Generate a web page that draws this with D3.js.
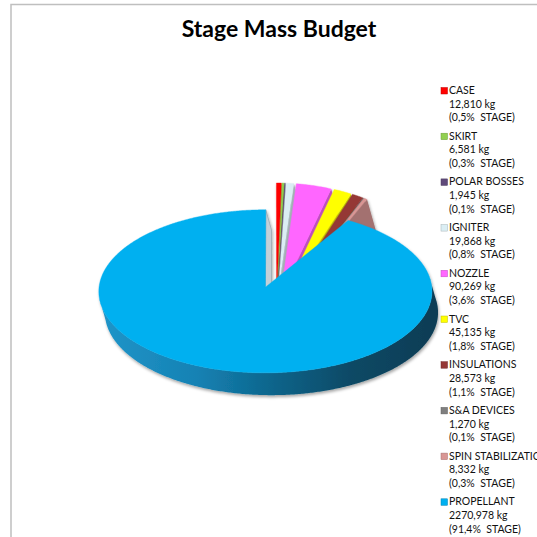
<!DOCTYPE html>
<html>
<head>
<meta charset="utf-8">
<script src="https://cdn.jsdelivr.net/npm/d3@7"></script>
<style>
  html, body { margin: 0; padding: 0; background: #fff; }
  svg { display: block; }
  text { font-family: Lato, "Noto Sans", sans-serif; }
</style>
</head>
<body>
<svg id="chart"></svg>
<script>
// data
const categories = ["CASE", "SKIRT", "POLAR BOSSES", "IGNITER", "NOZZLE", "TVC",
                    "INSULATIONS", "S&A DEVICES", "SPIN STABILIZATION", "PROPELLANT"];
const massKg = [12.810, 6.581, 1.945, 19.868, 90.269, 45.135, 28.573, 1.270, 8.332, 2270.978];
const palette = ["#ff0000", "#92d050", "#604a7b", "#dbeef4", "#ff66ff", "#ffff00",
                 "#953735", "#7f7f7f", "#d99694", "#00b0f0"];

const width = 537, height = 537;

// 3d pie params
const cx = 273, cy = 274;
const RX = 165, RY = 80;   // top ellipse radii
const P = 0.05;            // mild perspective
const DX = 6, DY = 21;     // thickness vector
const bigExplode = 0.17;
// the pulled-out small slices look bigger in the reference
const small = { explode: 0.12, shiftU: 0.02, shiftW: -0.38, rx: 1.0, ry: 1.466, depth: 1.7 };

let svg = d3.select("#chart")
    .attr("width", width)
    .attr("height", height);

// frame of the chart area
svg.append("path")
    .attr("d", "M11,537 L11,4.5 L537,4.5")
    .attr("fill", "none")
    .attr("stroke", "#bfbfbf")
    .attr("stroke-width", 1.5);

// title
svg.append("text")
    .attr("x", 279)
    .attr("y", 37)
    .attr("text-anchor", "middle")
    .style("font-size", "23px")
    .style("font-weight", "bold")
    .style("fill", "#000")
    .text("Stage Mass Budget");

let defs = svg.append("defs");

let shadow = defs.append("filter")
    .attr("id", "shadow")
    .attr("x", "-10%").attr("y", "-10%")
    .attr("width", "120%").attr("height", "130%");
shadow.append("feDropShadow")
    .attr("dx", 1).attr("dy", 2)
    .attr("stdDeviation", 1.5)
    .attr("flood-color", "#000")
    .attr("flood-opacity", 0.35);

// side gradient of the big slice
let grad = defs.append("linearGradient")
    .attr("id", "sideGrad")
    .attr("gradientUnits", "userSpaceOnUse")
    .attr("x1", cx - RX - 15).attr("x2", cx + RX)
    .attr("y1", 0).attr("y2", 0);
[["0%", "#2196ca"], ["30%", "#1582b4"], ["55%", "#0c6186"], ["75%", "#0a4965"], ["100%", "#0a3c54"]]
    .forEach(s => grad.append("stop").attr("offset", s[0]).attr("stop-color", s[1]));

let color = d3.scaleOrdinal(categories, palette);

let total = d3.sum(massKg);
let locale = d3.formatLocale({ decimal: ",", thousands: "", grouping: [3], currency: ["", ""] });
let fmtKg = locale.format(".3f");
let fmtPct = locale.format(".1f");

let pie = d3.pie()
    .sort(null)
    .value(d => d.kg);

let arcs = pie(categories.map((c, i) => ({ name: c, kg: massKg[i] })));

// project a point of the pie plane (u right, w away, z down) to screen
function proj(u, w, z) {
    let s = 1 / (1 + P * w);
    return [cx + (RX * u + DX * z) * s, cy + (-RY * w + DY * z) * s];
}

function wallVisible(nu, nw) {
    return nu * DX / RX - nw * DY / RY > 0;
}

let line = d3.line();

function arcAngles(a0, a1) {
    let n = Math.max(2, Math.ceil((a1 - a0) / (Math.PI / 360)));
    return d3.range(n + 1).map(k => a0 + (a1 - a0) * k / n);
}

// farther slices first, big slice last
let order = arcs.slice().sort((a, b) => (a.data.name === "PROPELLANT") - (b.data.name === "PROPELLANT") || a.startAngle - b.startAngle);

let pieG = svg.append("g").attr("class", "pie3d");

order.forEach(function (d) {
    let big = d.data.name === "PROPELLANT";
    let mid = (d.startAngle + d.endAngle) / 2;
    let e = big ? bigExplode : small.explode;
    let ou = e * Math.sin(mid) + (big ? 0 : small.shiftU);
    let ow = e * Math.cos(mid) + (big ? 0 : small.shiftW);
    let kx = big ? 1 : small.rx, ky = big ? 1 : small.ry, kz = big ? 1 : small.depth;
    let c = color(d.data.name);
    let wallColor = d3.color(c).darker(big ? 0.6 : 0.8).formatHex();

    let g = pieG.append("g").attr("filter", "url(#shadow)");
    let pt = (a, z) => proj(ou + kx * Math.sin(a), ow + ky * Math.cos(a), z * kz);
    let centre = z => proj(ou, ow, z * kz);

    // outer curved wall, visible parts
    let angles = arcAngles(d.startAngle, d.endAngle);
    let runs = [], cur = [];
    angles.forEach(a => {
        if (wallVisible(Math.sin(a), Math.cos(a))) cur.push(a);
        else if (cur.length) { runs.push(cur); cur = []; }
    });
    if (cur.length) runs.push(cur);
    runs.forEach(run => {
        let pts = run.map(a => pt(a, 0)).concat(run.slice().reverse().map(a => pt(a, 1)));
        g.append("path")
            .attr("d", line(pts) + "Z")
            .attr("fill", big ? "url(#sideGrad)" : wallColor);
    });

    // radial walls
    let s0 = d.startAngle, s1 = d.endAngle;
    if (wallVisible(-Math.cos(s0), Math.sin(s0))) {
        g.append("path")
            .attr("d", line([centre(0), pt(s0, 0), pt(s0, 1), centre(1)]) + "Z")
            .attr("fill", wallColor);
    }
    if (wallVisible(Math.cos(s1), -Math.sin(s1))) {
        g.append("path")
            .attr("d", line([centre(0), pt(s1, 0), pt(s1, 1), centre(1)]) + "Z")
            .attr("fill", big ? "#c3d0d8" : wallColor)
            .attr("stroke", big ? "#8a9aa5" : "none")
            .attr("stroke-width", 0.6);
    }

    // top face
    let top = [centre(0)].concat(angles.map(a => pt(a, 0)));
    g.append("path")
        .attr("d", line(top) + "Z")
        .attr("fill", c)
        .attr("stroke", c)
        .attr("stroke-width", 0.4);
});

// legend
let legend = svg.append("g")
    .attr("class", "legend")
    .attr("transform", "translate(441,0)");

let items = legend.selectAll("g.item")
    .data(arcs)
    .enter().append("g")
    .attr("class", "item")
    .attr("transform", (d, i) => "translate(0," + (94 + i * 45.7) + ")");

items.append("rect")
    .attr("x", 0).attr("y", -6.5)
    .attr("width", 6.5).attr("height", 6.5)
    .attr("fill", d => color(d.data.name))
    .attr("stroke", d => d3.color(color(d.data.name)).darker(0.8))
    .attr("stroke-width", 0.5);

let txt = items.append("text")
    .style("font-size", "10.5px")
    .style("fill", "#111")
    .attr("xml:space", "preserve");

txt.append("tspan").attr("x", 8).attr("y", 0).text(d => d.data.name);
txt.append("tspan").attr("x", 8).attr("y", 13.7).text(d => fmtKg(d.data.kg) + " kg");
txt.append("tspan").attr("x", 8).attr("y", 27.4)
    .style("white-space", "pre")
    .text(d => "(" + fmtPct(d.data.kg / total * 100) + "%  STAGE)");
</script>
</body>
</html>
